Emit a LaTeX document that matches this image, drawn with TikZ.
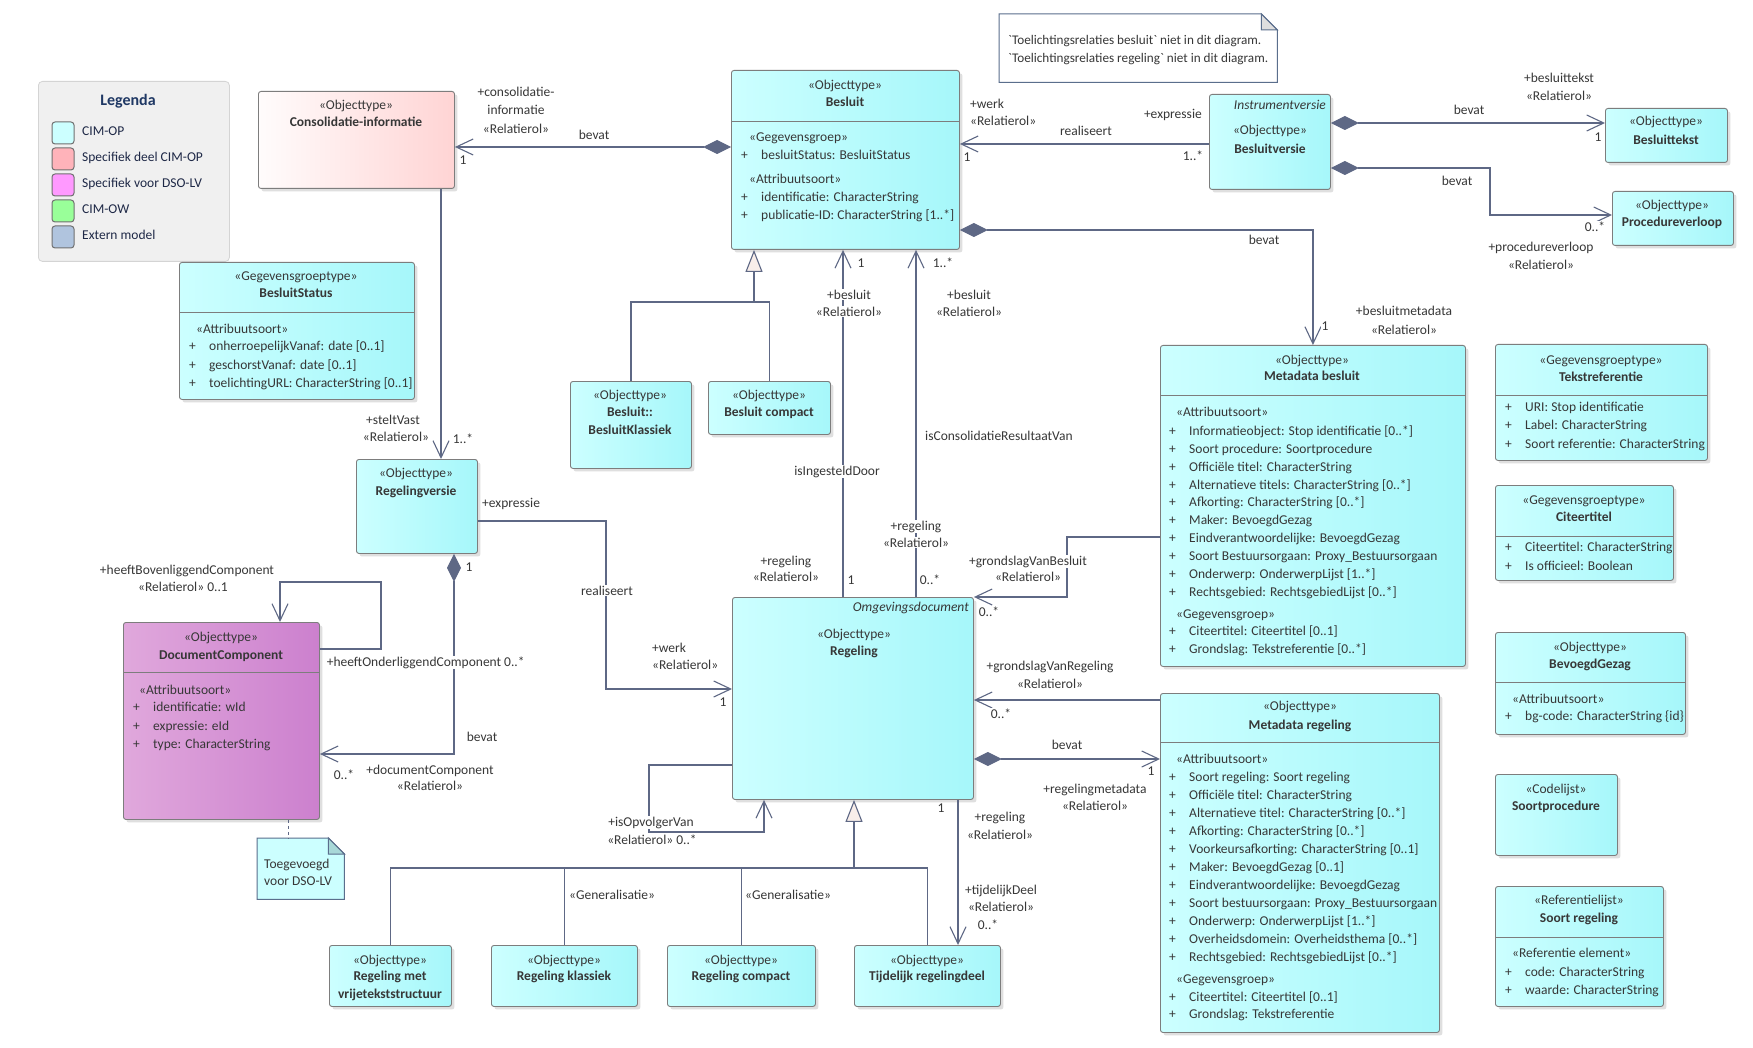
\documentclass[tikz,border=0pt]{standalone}
\usepackage{fontspec}
\setmainfont{Carlito}[Ligatures=TeXOff]
\usetikzlibrary{arrows.meta,shadows}
\definecolor{linec}{RGB}{94,104,133}
\definecolor{bordc}{RGB}{125,125,125}
\definecolor{cyL}{RGB}{204,255,255}
\definecolor{cyR}{RGB}{166,247,250}
\definecolor{txtc}{RGB}{55,55,55}
\definecolor{pkL}{RGB}{255,252,252}
\definecolor{pkR}{RGB}{255,212,212}
\definecolor{puL}{RGB}{224,168,220}
\definecolor{puR}{RGB}{204,128,206}
\definecolor{legbg}{RGB}{240,240,240}
\definecolor{legbd}{RGB}{212,212,212}
\definecolor{navy}{RGB}{31,56,100}
\definecolor{legtxt}{RGB}{30,40,70}
\definecolor{trifill}{RGB}{248,238,234}
\definecolor{notebd}{RGB}{90,110,140}
\definecolor{swbd}{RGB}{112,112,112}
\newcommand{\fs}{\fontsize{13.5}{17}\selectfont}
\newcounter{tn}
\newcommand{\tcen}[2]{\stepcounter{tn}\node[tc] (t\arabic{tn}) at (#1) {#2};}
\newcommand{\tlef}[2]{\stepcounter{tn}\node[tl] (t\arabic{tn}) at (#1) {#2};}
\newcommand{\trig}[2]{\stepcounter{tn}\node[tr] (t\arabic{tn}) at (#1) {#2};}
\newcommand{\clab}[2]{\stepcounter{tn}\node[cl] (t\arabic{tn}) at (#1) {#2};}
\newcommand{\cllab}[2]{\stepcounter{tn}\node[cll] (t\arabic{tn}) at (#1) {#2};}
\newcommand{\attr}[4]{\tlef{#1,#3}{+}\tlef{#2,#3}{#4}}
\begin{document}
\begin{tikzpicture}[x=1pt,y=-1pt,font=\fs,
 tc/.style={anchor=mid,inner sep=0pt,text=txtc},
 tl/.style={anchor=mid west,inner sep=0pt,text=txtc},
 tr/.style={anchor=mid east,inner sep=0pt,text=txtc},
 cl/.style={anchor=mid,inner sep=0.6pt,fill=white,text=txtc},
 cll/.style={anchor=mid west,inner sep=0.6pt,fill=white,text=txtc},
 cls/.style={draw=bordc,line width=0.9pt,rounded corners=2.5pt,left color=cyL,right color=cyR,anchor=north west,inner sep=0pt,drop shadow={shadow xshift=3pt,shadow yshift=-3pt,opacity=0.25}},
 clsP/.style={cls,left color=pkL,right color=pkR},
 clsM/.style={cls,left color=puL,right color=puR},
 div/.style={draw=bordc,line width=0.9pt},
 sw/.style={draw=swbd,line width=1pt,rounded corners=3pt,minimum size=22pt,inner sep=0pt},
 conn/.style={draw=linec,line width=1.1pt},
 nav/.style={conn,-{Straight Barb[length=17pt,width=16pt]}},
 comp/.style={conn,{Diamond[length=28pt,width=14pt]}-{Straight Barb[length=17pt,width=16pt]}},
 gen/.style={conn,-{Triangle[length=22pt,width=17pt,fill=trifill]}}]
\useasboundingbox (0,0) rectangle (1753,1048);
\fill[white] (0,0) rectangle (1753,1048);

% ---------- Legend
\node[draw=legbd,fill=legbg,rounded corners=4pt,minimum width=191pt,minimum height=180pt,anchor=north west,inner sep=0pt,line width=0.8pt] (legend) at (38,81) {};
\node[font=\fontsize{16}{19}\selectfont\bfseries,text=navy,anchor=mid,inner sep=0pt] (legtitle) at (128,103) {Legenda};
\node[sw,fill=cyL] (sw1) at (63,133) {};
\node[sw,fill={rgb,255:red,255;green,179;blue,186}] (sw2) at (63,159) {};
\node[sw,fill={rgb,255:red,255;green,153;blue,255}] (sw3) at (63,185) {};
\node[sw,fill={rgb,255:red,153;green,255;blue,153}] (sw4) at (63,211) {};
\node[sw,fill={rgb,255:red,176;green,196;blue,222}] (sw5) at (63,237) {};
\node[tl,text=legtxt] (lg1) at (82,133) {CIM-OP};
\node[tl,text=legtxt] (lg2) at (82,159) {Specifiek deel CIM-OP};
\node[tl,text=legtxt] (lg3) at (82,185) {Specifiek voor DSO-LV};
\node[tl,text=legtxt] (lg4) at (82,211) {CIM-OW};
\node[tl,text=legtxt] (lg5) at (82,237) {Extern model};

% ---------- Boxes
\node[clsP,minimum width=196pt,minimum height=97pt] (consol) at (258,91) {};
\node[cls,minimum width=228pt,minimum height=179pt] (besluit) at (731,70) {};
\node[cls,minimum width=121pt,minimum height=95pt] (bversie) at (1209,94) {};
\node[cls,minimum width=122pt,minimum height=54pt] (btekst) at (1605,108) {};
\node[cls,minimum width=121pt,minimum height=54pt] (procv) at (1612,191) {};
\node[cls,minimum width=235pt,minimum height=137pt] (bstatus) at (179,262) {};
\node[cls,minimum width=121pt,minimum height=94pt] (rversie) at (356,459) {};
\node[clsM,minimum width=196pt,minimum height=197pt] (doccomp) at (123,622) {};
\node[cls,minimum width=121pt,minimum height=87pt] (bklass) at (570,381) {};
\node[cls,minimum width=122pt,minimum height=53pt] (bcomp) at (708,381) {};
\node[cls,minimum width=241pt,minimum height=202pt] (regeling) at (732,597) {};
\node[cls,minimum width=122pt,minimum height=61pt] (rmv) at (329,945) {};
\node[cls,minimum width=146pt,minimum height=61pt] (rkl) at (491,945) {};
\node[cls,minimum width=148pt,minimum height=61pt] (rco) at (667,945) {};
\node[cls,minimum width=146pt,minimum height=61pt] (tijd) at (854,945) {};
\node[cls,minimum width=305pt,minimum height=321pt] (mdb) at (1160,345) {};
\node[cls,minimum width=279pt,minimum height=339pt] (mdr) at (1160,693) {};
\node[cls,minimum width=212pt,minimum height=116pt] (tekstref) at (1495,344) {};
\node[cls,minimum width=178pt,minimum height=95pt] (citeer) at (1495,485) {};
\node[cls,minimum width=190pt,minimum height=102pt] (bgezag) at (1495,632) {};
\node[cls,minimum width=122pt,minimum height=81pt] (sproc) at (1495,774) {};
\node[cls,minimum width=168pt,minimum height=120pt] (sreg) at (1495,886) {};

% dividers
\draw[div] (besluit.west |- 0,121) -- (besluit.east |- 0,121);
\draw[div] (bstatus.west |- 0,312) -- (bstatus.east |- 0,312);
\draw[div] (doccomp.west |- 0,672) -- (doccomp.east |- 0,672);
\draw[div] (mdb.west |- 0,395) -- (mdb.east |- 0,395);
\draw[div] (mdr.west |- 0,742) -- (mdr.east |- 0,742);
\draw[div] (tekstref.west |- 0,395) -- (tekstref.east |- 0,395);
\draw[div] (citeer.west |- 0,536) -- (citeer.east |- 0,536);
\draw[div] (bgezag.west |- 0,682) -- (bgezag.east |- 0,682);
\draw[div] (sreg.west |- 0,937) -- (sreg.east |- 0,937);

% ---------- Notes
\node[anchor=north west,minimum width=278pt,minimum height=68pt,inner sep=0pt] (note1) at (999,14) {};
\filldraw[fill=white,draw=notebd,line width=1pt] (note1.north west) -- ([xshift=-16pt]note1.north east) -- ([yshift=-16pt]note1.north east) -- (note1.south east) -- (note1.south west) -- cycle;
\filldraw[fill=black!13,draw=notebd,line width=1pt] ([xshift=-16pt]note1.north east) -- ([xshift=-16pt,yshift=-16pt]note1.north east) -- ([yshift=-16pt]note1.north east) -- cycle;
\node[anchor=north west,minimum width=87pt,minimum height=61pt,inner sep=0pt] (note2) at (257,838) {};
\filldraw[fill=cyL,draw=notebd,line width=1pt] (note2.north west) -- ([xshift=-16pt]note2.north east) -- ([yshift=-16pt]note2.north east) -- (note2.south east) -- (note2.south west) -- cycle;
\filldraw[fill={rgb,255:red,168;green,216;blue,216},draw=notebd,line width=1pt] ([xshift=-16pt]note2.north east) -- ([xshift=-16pt,yshift=-16pt]note2.north east) -- ([yshift=-16pt]note2.north east) -- cycle;
\node[tl,font=\fontsize{13.2}{15}\selectfont] (n1a) at (1008,42) {`Toelichtingsrelaties besluit` niet in dit diagram.};
\node[tl,font=\fontsize{13.2}{15}\selectfont] (n1b) at (1008,60) {`Toelichtingsrelaties regeling` niet in dit diagram.};
\tlef{264,866}{Toegevoegd}
\tlef{264,883}{voor DSO-LV}

% ---------- Box texts
\tcen{356,107}{«Objecttype»}
\tcen{356,124}{\textbf{Consolidatie-informatie}}

\tcen{845,87}{«Objecttype»}
\tcen{845,104}{\textbf{Besluit}}
\tlef{749,139}{«Gegevensgroep»}
\attr{741}{761}{157}{besluitStatus: BesluitStatus}
\tlef{749,181}{«Attribuutsoort»}
\attr{741}{761}{199}{identificatie: CharacterString}
\attr{741}{761}{217}{publicatie-ID: CharacterString [1..*]}

\trig{1326,107}{\textit{Instrumentversie}}
\tcen{1270,132}{«Objecttype»}
\tcen{1270,151}{\textbf{Besluitversie}}

\tcen{1666,123}{«Objecttype»}
\tcen{1666,142}{\textbf{Besluittekst}}
\tcen{1672,207}{«Objecttype»}
\tcen{1672,224}{\textbf{Procedureverloop}}

\tcen{296,278}{«Gegevensgroeptype»}
\tcen{296,295}{\textbf{BesluitStatus}}
\tlef{196,331}{«Attribuutsoort»}
\attr{189}{209}{348}{onherroepelijkVanaf: date [0..1]}
\attr{189}{209}{367}{geschorstVanaf: date [0..1]}
\attr{189}{209}{385}{toelichtingURL: CharacterString [0..1]}

\tcen{416,475}{«Objecttype»}
\tcen{416,493}{\textbf{Regelingversie}}

\tcen{221,639}{«Objecttype»}
\tcen{221,657}{\textbf{DocumentComponent}}
\tlef{139,692}{«Attribuutsoort»}
\attr{133}{153}{709}{identificatie: wId}
\attr{133}{153}{728}{expressie: eId}
\attr{133}{153}{746}{type: CharacterString}

\tcen{630,397}{«Objecttype»}
\tcen{630,414}{\textbf{Besluit::}}
\tcen{630,432}{\textbf{BesluitKlassiek}}
\tcen{769,397}{«Objecttype»}
\tcen{769,414}{\textbf{Besluit compact}}

\trig{969,609}{\textit{Omgevingsdocument}}
\tcen{854,636}{«Objecttype»}
\tcen{854,653}{\textbf{Regeling}}

\tcen{390,962}{«Objecttype»}
\tcen{390,978}{\textbf{Regeling met}}
\tcen{390,996}{\textbf{vrijetekststructuur}}
\tcen{564,962}{«Objecttype»}
\tcen{564,978}{\textbf{Regeling klassiek}}
\tcen{741,962}{«Objecttype»}
\tcen{741,978}{\textbf{Regeling compact}}
\tcen{927,962}{«Objecttype»}
\tcen{927,978}{\textbf{Tijdelijk regelingdeel}}

\tcen{1312,362}{«Objecttype»}
\tcen{1312,378}{\textbf{Metadata besluit}}
\tlef{1176,414}{«Attribuutsoort»}
\attr{1169}{1189}{433}{Informatieobject: Stop identificatie [0..*]}
\attr{1169}{1189}{451}{Soort procedure: Soortprocedure}
\attr{1169}{1189}{469}{Officiële titel: CharacterString}
\attr{1169}{1189}{487}{Alternatieve titels: CharacterString [0..*]}
\attr{1169}{1189}{504}{Afkorting: CharacterString [0..*]}
\attr{1169}{1189}{522}{Maker: BevoegdGezag}
\attr{1169}{1189}{540}{Eindverantwoordelijke: BevoegdGezag}
\attr{1169}{1189}{558}{Soort Bestuursorgaan: Proxy\_Bestuursorgaan}
\attr{1169}{1189}{576}{Onderwerp: OnderwerpLijst [1..*]}
\attr{1169}{1189}{594}{Rechtsgebied: RechtsgebiedLijst [0..*]}
\tlef{1176,616}{«Gegevensgroep»}
\attr{1169}{1189}{633}{Citeertitel: Citeertitel [0..1]}
\attr{1169}{1189}{651}{Grondslag: Tekstreferentie [0..*]}

\tcen{1300,708}{«Objecttype»}
\tcen{1300,727}{\textbf{Metadata regeling}}
\tlef{1176,761}{«Attribuutsoort»}
\attr{1169}{1189}{779}{Soort regeling: Soort regeling}
\attr{1169}{1189}{797}{Officiële titel: CharacterString}
\attr{1169}{1189}{815}{Alternatieve titel: CharacterString [0..*]}
\attr{1169}{1189}{833}{Afkorting: CharacterString [0..*]}
\attr{1169}{1189}{851}{Voorkeursafkorting: CharacterString [0..1]}
\attr{1169}{1189}{869}{Maker: BevoegdGezag [0..1]}
\attr{1169}{1189}{887}{Eindverantwoordelijke: BevoegdGezag}
\attr{1169}{1189}{905}{Soort bestuursorgaan: Proxy\_Bestuursorgaan}
\attr{1169}{1189}{923}{Onderwerp: OnderwerpLijst [1..*]}
\attr{1169}{1189}{941}{Overheidsdomein: Overheidsthema [0..*]}
\attr{1169}{1189}{959}{Rechtsgebied: RechtsgebiedLijst [0..*]}
\tlef{1176,981}{«Gegevensgroep»}
\attr{1169}{1189}{999}{Citeertitel: Citeertitel [0..1]}
\attr{1169}{1189}{1016}{Grondslag: Tekstreferentie}

\tcen{1601,362}{«Gegevensgroeptype»}
\tcen{1601,379}{\textbf{Tekstreferentie}}
\attr{1505}{1525}{409}{URI: Stop identificatie}
\attr{1505}{1525}{427}{Label: CharacterString}
\attr{1505}{1525}{446}{Soort referentie: CharacterString}

\tcen{1584,502}{«Gegevensgroeptype»}
\tcen{1584,519}{\textbf{Citeertitel}}
\attr{1505}{1525}{549}{Citeertitel: CharacterString}
\attr{1505}{1525}{568}{Is officieel: Boolean}

\tcen{1590,649}{«Objecttype»}
\tcen{1590,666}{\textbf{BevoegdGezag}}
\tlef{1512,701}{«Attribuutsoort»}
\attr{1505}{1525}{718}{bg-code: CharacterString \{id\}}

\tcen{1556,791}{«Codelijst»}
\tcen{1556,808}{\textbf{Soortprocedure}}

\tcen{1579,902}{«Referentielijst»}
\tcen{1579,920}{\textbf{Soort regeling}}
\tlef{1512,955}{«Referentie element»}
\attr{1505}{1525}{974}{code: CharacterString}
\attr{1505}{1525}{992}{waarde: CharacterString}

% ---------- Connectors
\draw[comp] (besluit.west |- 0,147) -- (consol.east |- 0,147);
\draw[nav] (bversie.west |- 0,144) -- (besluit.east |- 0,144);
\draw[comp] (bversie.east |- 0,123) -- (btekst.west |- 0,123);
\draw[comp] (bversie.east |- 0,168) -- (1490,168) -- (1490,215) -- (procv.west |- 0,215);
\draw[comp] (besluit.east |- 0,230) -| (mdb.north);
\draw[nav] (regeling.north -| 843,0) -- (besluit.south -| 843,0);
\draw[nav] (regeling.north -| 916,0) -- (besluit.south -| 916,0);
\draw[conn] (bklass.north) |- (754,302) -| (bcomp.north);
\draw[gen] (754,302) -- (besluit.south -| 754,0);
\draw[nav] (consol.south -| 441,0) -- (rversie.north -| 441,0);
\draw[nav] (rversie.east |- 0,521) -- (606,521) -- (606,689) -- (regeling.west |- 0,689);
\draw[comp] (rversie.south -| 454,0) -- (454,754) -- (doccomp.east |- 0,754);
\draw[nav] (doccomp.east |- 0,649) -- (381,649) -- (381,582) -- (280,582) -- (doccomp.north -| 280,0);
\draw[linec,line width=1pt,dashed] (doccomp.south -| 288,0) -- (note2.north -| 288,0);
\draw[nav] (mdb.west |- 0,537) -- (1067,537) -- (1067,597) -- (regeling.north east);
\draw[nav] (mdr.west |- 0,700) -- (regeling.east |- 0,700);
\draw[comp] (regeling.east |- 0,759) -- (mdr.west |- 0,759);
\draw[nav] (regeling.west |- 0,765) -- (649,765) -- (649,832) -- (764,832) -- (regeling.south -| 764,0);
\draw[nav] (regeling.south -| 958,0) -- (tijd.north -| 958,0);
\draw[conn] (rmv.north) |- (tijd.north |- 0,868) -- (tijd.north);
\draw[conn] (rkl.north) -- (rkl.north |- 0,868);
\draw[conn] (rco.north) -- (rco.north |- 0,868);
\draw[gen] (854,868) -- (regeling.south -| 854,0);

% ---------- Connector labels
\clab{594,137}{bevat}
\clab{463,162}{1}
\clab{516,94}{+consolidatie-}
\clab{516,112}{informatie}
\clab{516,131}{«Relatierol»}

\tlef{970,106}{+werk}
\tlef{970,123}{«Relatierol»}
\clab{1086,133}{realiseert}
\clab{967,159}{1}
\trig{1202,116}{+expressie}
\clab{1193,158}{1..*}

\clab{1469,112}{bevat}
\clab{1559,80}{+besluittekst}
\clab{1559,98}{«Relatierol»}
\clab{1598,139}{1}

\clab{1457,183}{bevat}
\clab{1595,229}{0..*}
\clab{1541,249}{+procedureverloop}
\clab{1541,267}{«Relatierol»}

\clab{1264,242}{bevat}
\clab{1325,328}{1}
\clab{1404,313}{+besluitmetadata}
\clab{1404,332}{«Relatierol»}

\clab{861,265}{1}
\clab{849,297}{+besluit}
\clab{849,314}{«Relatierol»}
\clab{837,473}{isIngesteldDoor}
\clab{786,563}{+regeling}
\clab{786,579}{«Relatierol»}
\clab{851,582}{1}

\clab{943,265}{1..*}
\clab{969,297}{+besluit}
\clab{969,314}{«Relatierol»}
\tlef{925,438}{isConsolidatieResultaatVan}
\clab{916,528}{+regeling}
\clab{916,545}{«Relatierol»}
\clab{930,582}{0..*}

\clab{393,422}{+steltVast}
\clab{396,439}{«Relatierol»}
\clab{463,441}{1..*}

\tlef{482,505}{+expressie}
\clab{607,593}{realiseert}
\tlef{652,650}{+werk}
\tlef{652,667}{«Relatierol»}
\clab{723,704}{1}

\clab{469,569}{1}
\clab{482,739}{bevat}
\clab{344,777}{0..*}
\clab{430,772}{+documentComponent}
\clab{430,788}{«Relatierol»}

\clab{187,572}{+heeftBovenliggendComponent}
\clab{183,589}{«Relatierol» 0..1}
\cllab{326,664}{+heeftOnderliggendComponent 0..*}

\clab{1028,563}{+grondslagVanBesluit}
\clab{1028,579}{«Relatierol»}
\clab{989,614}{0..*}

\clab{1050,668}{+grondslagVanRegeling}
\clab{1050,686}{«Relatierol»}
\clab{1001,716}{0..*}

\clab{1067,747}{bevat}
\clab{1151,773}{1}
\clab{1095,791}{+regelingmetadata}
\clab{1095,808}{«Relatierol»}

\clab{651,824}{+isOpvolgerVan}
\clab{652,842}{«Relatierol» 0..*}

\clab{941,810}{1}
\clab{1000,819}{+regeling}
\clab{1000,837}{«Relatierol»}
\clab{1001,892}{+tijdelijkDeel}
\clab{1001,909}{«Relatierol»}
\clab{988,927}{0..*}

\tlef{569,897}{«Generalisatie»}
\tlef{745,897}{«Generalisatie»}
\end{tikzpicture}
\end{document}
